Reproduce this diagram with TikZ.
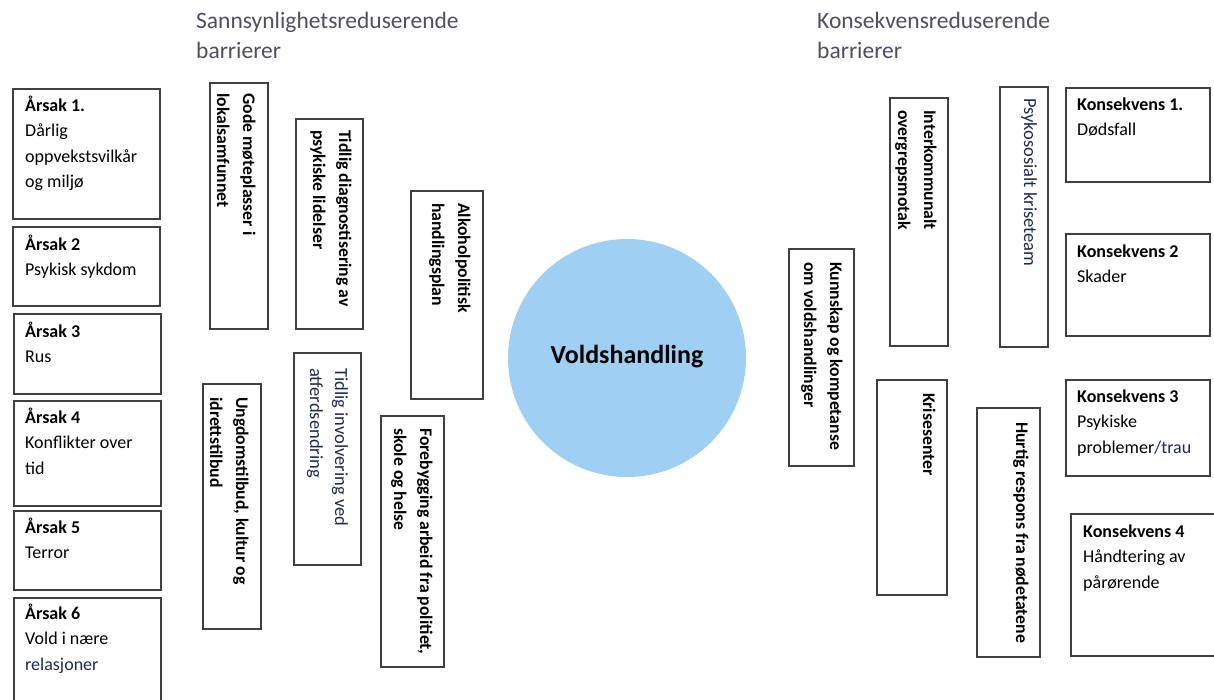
\documentclass[tikz,border=0pt]{standalone}
\usepackage{fontspec}
\setmainfont{Carlito}
\definecolor{boxgray}{HTML}{404040}
\definecolor{navytxt}{HTML}{1F2A55}
\definecolor{titlegray}{HTML}{4F4F5F}
\definecolor{circleblue}{HTML}{9FCFF2}
\newcommand{\mylines}[1]{\begin{tabular}[t]{@{}l@{}}#1\end{tabular}}
\begin{document}
\begin{tikzpicture}[x=1pt,y=-1pt,
  box/.style={draw=boxgray, line width=1.5pt, anchor=north west, inner sep=0pt, fill=white},
  hlbl/.style={anchor=base west, inner sep=0pt, font=\fontsize{18}{25.5}\selectfont},
  vlbl/.style={rotate=-90, anchor=base west, inner sep=0pt, font=\fontsize{17.7}{26}\selectfont\bfseries},
  vnavy/.style={rotate=-90, anchor=base west, inner sep=0pt, text=navytxt, font=\fontsize{18.5}{25}\selectfont},
  title/.style={anchor=base west, inner sep=0pt, text=titlegray, font=\fontsize{23.5}{30}\selectfont}]
\useasboundingbox (0,0) rectangle (1214,699);
% titles
\node[title] (t1) at (196,28) {\mylines{Sannsynlighetsreduserende\\barrierer}};
\node[title] (t2) at (817,28) {\mylines{Konsekvensreduserende\\barrierer}};
% cause boxes
\node[box, minimum width=147, minimum height=130] (a1) at (12,88) {};
\node[box, minimum width=147, minimum height=79] (a2) at (12,226) {};
\node[box, minimum width=147, minimum height=80] (a3) at (13,313) {};
\node[box, minimum width=147, minimum height=105] (a4) at (13,400) {};
\node[box, minimum width=147, minimum height=79] (a5) at (13,510) {};
\node[box, minimum width=147, minimum height=110] (a6) at (13,597) {};
\node[hlbl] (a1t) at (25,111) {\mylines{\textbf{Årsak 1.}\\Dårlig\\oppvekstsvilkår\\og miljø}};
\node[hlbl] (a2t) at (25,250) {\mylines{\textbf{Årsak 2}\\Psykisk sykdom}};
\node[hlbl] (a3t) at (25,337) {\mylines{\textbf{Årsak 3}\\Rus}};
\node[hlbl] (a4t) at (25,423) {\mylines{\textbf{Årsak 4}\\Konflikter over\\tid}};
\node[hlbl] (a5t) at (25,533) {\mylines{\textbf{Årsak 5}\\Terror}};
\node[hlbl] (a6t) at (25,619) {\mylines{\textbf{Årsak 6}\\Vold i nære\\\textcolor{navytxt}{relasjoner}}};
% left barriers
\node[box, minimum width=58, minimum height=246] (b1) at (209,82) {};
\node[box, minimum width=67, minimum height=210] (b2) at (295,118) {};
\node[box, minimum width=72, minimum height=208] (b3) at (410,190) {};
\node[box, minimum width=58, minimum height=245] (b4) at (202,383) {};
\node[box, minimum width=67, minimum height=212] (b5) at (293,352) {};
\node[box, minimum width=63, minimum height=251] (b6) at (380,415) {};
\node[vlbl] (b1t) at (243,93) {\mylines{Gode møteplasser i\\lokalsamfunnet}};
\node[vlbl] (b2t) at (339,130) {\mylines{Tidlig diagnostisering av\\psykiske lidelser}};
\node[vlbl] (b3t) at (458,203) {\mylines{Alkoholpolitisk\\handlingsplan}};
\node[vlbl] (b4t) at (236,397) {\mylines{Ungdomstilbud, kultur og\\idrettstilbud}};
\node[vnavy] (b5t) at (335,368) {\mylines{Tidlig involvering ved\\atferdsendring}};
\node[vlbl] (b6t) at (420,428) {\mylines{Forebygging arbeid fra politiet,\\skole og helse}};
% centre event
\node[circle, fill=circleblue, minimum size=238, inner sep=0pt] (v) at (627,358) {};
\node[anchor=base, inner sep=0pt, font=\fontsize{26}{30}\selectfont\bfseries] (vt) at (627,363) {Voldshandling};
% right barriers
\node[box, minimum width=65, minimum height=217] (c1) at (788,248) {};
\node[box, minimum width=58, minimum height=248] (c2) at (889,97) {};
\node[box, minimum width=48, minimum height=260] (c3) at (999,86) {};
\node[box, minimum width=70, minimum height=215] (c4) at (876,379) {};
\node[box, minimum width=63, minimum height=249] (c5) at (976,407) {};
\node[vlbl] (c1t) at (830,262) {\mylines{Kunnskap og kompetanse\\om voldshandlinger}};
\node[vlbl] (c2t) at (924,110) {\mylines{Interkommunalt\\overgrepsmotak}};
\node[vnavy] (c3t) at (1024,98) {Psykososialt kriseteam};
\node[vlbl] (c4t) at (923,393) {Krisesenter};
\node[vlbl] (c5t) at (1016,422) {Hurtig respons fra nødetatene};
% consequence boxes
\node[box, minimum width=144, minimum height=94] (k1) at (1065,87) {};
\node[box, minimum width=144, minimum height=102] (k2) at (1065,233) {};
\node[box, minimum width=144, minimum height=96] (k3) at (1065,379) {};
\node[box, minimum width=150, minimum height=142] (k4) at (1070,513) {};
\node[hlbl] (k1t) at (1077,110) {\mylines{\textbf{Konsekvens 1.}\\Dødsfall}};
\node[hlbl] (k2t) at (1077,257) {\mylines{\textbf{Konsekvens 2}\\Skader}};
\node[hlbl] (k3t) at (1077,402) {\mylines{\textbf{Konsekvens 3}\\Psykiske\\problemer\textcolor{navytxt}{/trau}}};
\node[hlbl] (k4t) at (1083,537) {\mylines{\textbf{Konsekvens 4}\\Håndtering av\\pårørende}};
\end{tikzpicture}
\end{document}
